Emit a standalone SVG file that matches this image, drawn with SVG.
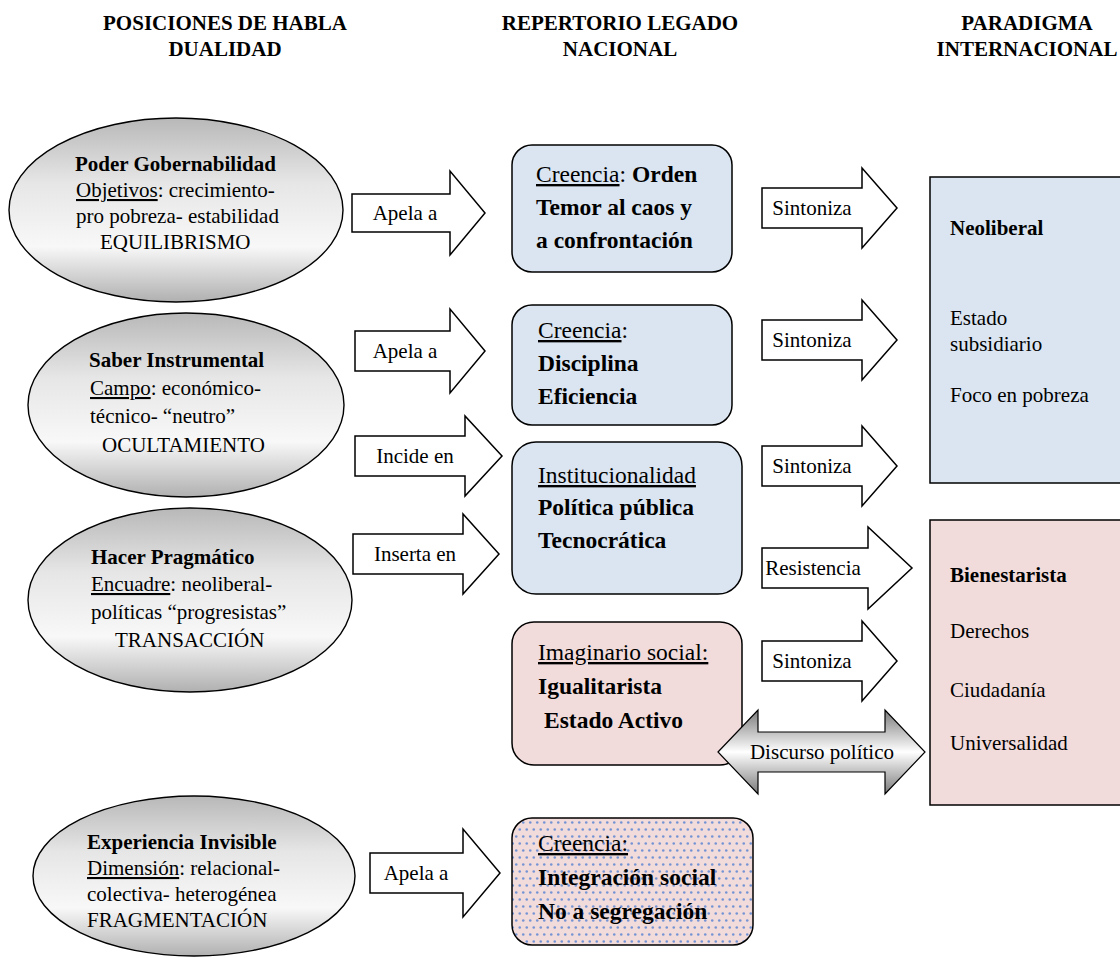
<svg xmlns="http://www.w3.org/2000/svg" width="1120" height="958" viewBox="0 0 1120 958">
<defs>
<style>
text{font-family:"Liberation Serif","Times New Roman",serif;fill:#000}
.h{font-size:21px;font-weight:bold;text-anchor:middle}
.t{font-size:21px}
.bt{font-size:23.5px}
.b{font-weight:bold}
.u{text-decoration:underline}
.m{text-anchor:middle}
.ell{fill:url(#eg);stroke:#000;stroke-width:1.4}
.box{stroke:#000;stroke-width:1.5}
.blue{fill:#dbe5f1}
.pink{fill:#f2dcdb}
.arr{fill:#fff;stroke:#000;stroke-width:1.5;stroke-linejoin:miter}
</style>
<linearGradient id="eg" x1="0" y1="0" x2="0" y2="1">
<stop offset="0" stop-color="#b8b8b8"/>
<stop offset="0.35" stop-color="#e6e6e6"/>
<stop offset="0.7" stop-color="#f8f8f8"/>
<stop offset="1" stop-color="#b0b0b0"/>
</linearGradient>
<linearGradient id="dg" x1="0" y1="0" x2="0" y2="1">
<stop offset="0" stop-color="#7a7a7a"/>
<stop offset="0.5" stop-color="#ffffff"/>
<stop offset="1" stop-color="#7a7a7a"/>
</linearGradient>
<pattern id="dots" width="7" height="14" patternUnits="userSpaceOnUse">
<rect width="7" height="14" fill="#f2dcdb"/>
<circle cx="1.75" cy="3.5" r="1.3" fill="#7594d4"/>
<circle cx="5.25" cy="10.5" r="1.3" fill="#7594d4"/>
</pattern>
</defs>
<rect width="1120" height="958" fill="#fff"/>

<g id="headers">
<text class="h" x="225" y="30">POSICIONES DE HABLA</text>
<text class="h" x="225" y="56">DUALIDAD</text>
<text class="h" x="620" y="30">REPERTORIO LEGADO</text>
<text class="h" x="620" y="56">NACIONAL</text>
<text class="h" x="1027" y="30">PARADIGMA</text>
<text class="h" x="1027" y="56">INTERNACIONAL</text>
</g>

<g id="poder">
<ellipse class="ell" cx="176" cy="210" rx="167" ry="92"/>
<text class="t b" x="75" y="171">Poder Gobernabilidad</text>
<text class="t" x="76" y="197"><tspan class="u">Objetivos</tspan>: crecimiento-</text>
<text class="t" x="76" y="223">pro pobreza- estabilidad</text>
<text class="t" x="100" y="249">EQUILIBRISMO</text>
</g>

<g id="saber">
<ellipse class="ell" cx="186" cy="405" rx="158" ry="92"/>
<text class="t b" x="89" y="367">Saber Instrumental</text>
<text class="t" x="90" y="395"><tspan class="u">Campo</tspan>: económico-</text>
<text class="t" x="90" y="423">técnico- “neutro”</text>
<text class="t" x="102" y="452">OCULTAMIENTO</text>
</g>

<g id="hacer">
<ellipse class="ell" cx="190" cy="600" rx="162" ry="92"/>
<text class="t b" x="91" y="564">Hacer Pragmático</text>
<text class="t" x="91" y="591"><tspan class="u">Encuadre</tspan>: neoliberal-</text>
<text class="t" x="91" y="619">políticas “progresistas”</text>
<text class="t" x="115" y="647">TRANSACCIÓN</text>
</g>

<g id="experiencia">
<ellipse class="ell" cx="194" cy="876" rx="161" ry="80"/>
<text class="t b" x="87" y="849">Experiencia Invisible</text>
<text class="t" x="87" y="875"><tspan class="u">Dimensión</tspan>: relacional-</text>
<text class="t" x="87" y="901">colectiva- heterogénea</text>
<text class="t" x="87" y="927">FRAGMENTACIÓN</text>
</g>

<g id="orden">
<rect class="box blue" x="512" y="145" width="220" height="127" rx="20"/>
<text class="bt" x="536" y="182"><tspan class="u">Creencia</tspan>: <tspan class="b">Orden</tspan></text>
<text class="bt b" x="536" y="215">Temor al caos y</text>
<text class="bt b" x="536" y="248">a confrontación</text>
</g>

<g id="disciplina">
<rect class="box blue" x="512" y="305" width="220" height="120" rx="20"/>
<text class="bt" x="538" y="338"><tspan class="u">Creencia</tspan>:</text>
<text class="bt b" x="538" y="371">Disciplina</text>
<text class="bt b" x="538" y="404">Eficiencia</text>
</g>

<g id="institucionalidad">
<rect class="box blue" x="512" y="442" width="230" height="152" rx="24"/>
<text class="bt u" x="538" y="483">Institucionalidad</text>
<text class="bt b" x="538" y="515">Política pública</text>
<text class="bt b" x="538" y="548">Tecnocrática</text>
</g>

<g id="imaginario">
<rect class="box pink" x="512" y="622" width="230" height="143" rx="22"/>
<text class="bt u" x="538" y="660">Imaginario social:</text>
<text class="bt b" x="538" y="694">Igualitarista</text>
<text class="bt b" x="544" y="728">Estado Activo</text>
</g>

<g id="integracion">
<rect class="box" x="512" y="818" width="241" height="127" rx="20" fill="url(#dots)"/>
<text class="bt u" x="538" y="851">Creencia:</text>
<text class="bt b" x="538" y="885">Integración social</text>
<text class="bt b" x="538" y="919">No a segregación</text>
</g>

<g id="neoliberal">
<rect class="box blue" x="930" y="177" width="200" height="306"/>
<text class="t b" x="950" y="235">Neoliberal</text>
<text class="t" x="950" y="325">Estado</text>
<text class="t" x="950" y="351">subsidiario</text>
<text class="t" x="950" y="402">Foco en pobreza</text>
</g>

<g id="bienestarista">
<rect class="box pink" x="930" y="520" width="200" height="285"/>
<text class="t b" x="950" y="582">Bienestarista</text>
<text class="t" x="950" y="638">Derechos</text>
<text class="t" x="950" y="697">Ciudadanía</text>
<text class="t" x="950" y="750">Universalidad</text>
</g>

<g id="connectors">
<path class="arr" d="M352,194 L450,194 L450,171 L485,213 L450,255 L450,232 L352,232 Z"/>
<text class="t m" x="405" y="220">Apela a</text>
<path class="arr" d="M355,331 L450,331 L450,309 L485,351 L450,393 L450,371 L355,371 Z"/>
<text class="t m" x="405" y="358">Apela a</text>
<path class="arr" d="M355,436 L465,436 L465,416 L502,456 L465,496 L465,476 L355,476 Z"/>
<text class="t m" x="415" y="463">Incide en</text>
<path class="arr" d="M353,534 L463,534 L463,514 L499,554 L463,594 L463,574 L353,574 Z"/>
<text class="t m" x="415" y="561">Inserta en</text>
<path class="arr" d="M370,853 L463,853 L463,829 L500,873 L463,917 L463,893 L370,893 Z"/>
<text class="t m" x="416" y="880">Apela a</text>

<path class="arr" d="M762,188 L862,188 L862,168 L897,208 L862,248 L862,228 L762,228 Z"/>
<text class="t m" x="812" y="215">Sintoniza</text>
<path class="arr" d="M762,320 L862,320 L862,300 L897,340 L862,380 L862,360 L762,360 Z"/>
<text class="t m" x="812" y="347">Sintoniza</text>
<path class="arr" d="M762,446 L862,446 L862,426 L897,466 L862,506 L862,486 L762,486 Z"/>
<text class="t m" x="812" y="473">Sintoniza</text>
<path class="arr" d="M762,548 L868,548 L868,527 L912,568 L868,609 L868,588 L762,588 Z"/>
<text class="t m" x="813" y="575">Resistencia</text>
<path class="arr" d="M762,641 L862,641 L862,621 L897,661 L862,701 L862,681 L762,681 Z"/>
<text class="t m" x="812" y="668">Sintoniza</text>

<path d="M718,752 L758,710 L758,732 L885,732 L885,710 L925,752 L885,794 L885,772 L758,772 L758,794 Z" fill="url(#dg)" stroke="#000" stroke-width="1.2"/>
<text class="t m" x="822" y="759">Discurso político</text>
</g>
</svg>
